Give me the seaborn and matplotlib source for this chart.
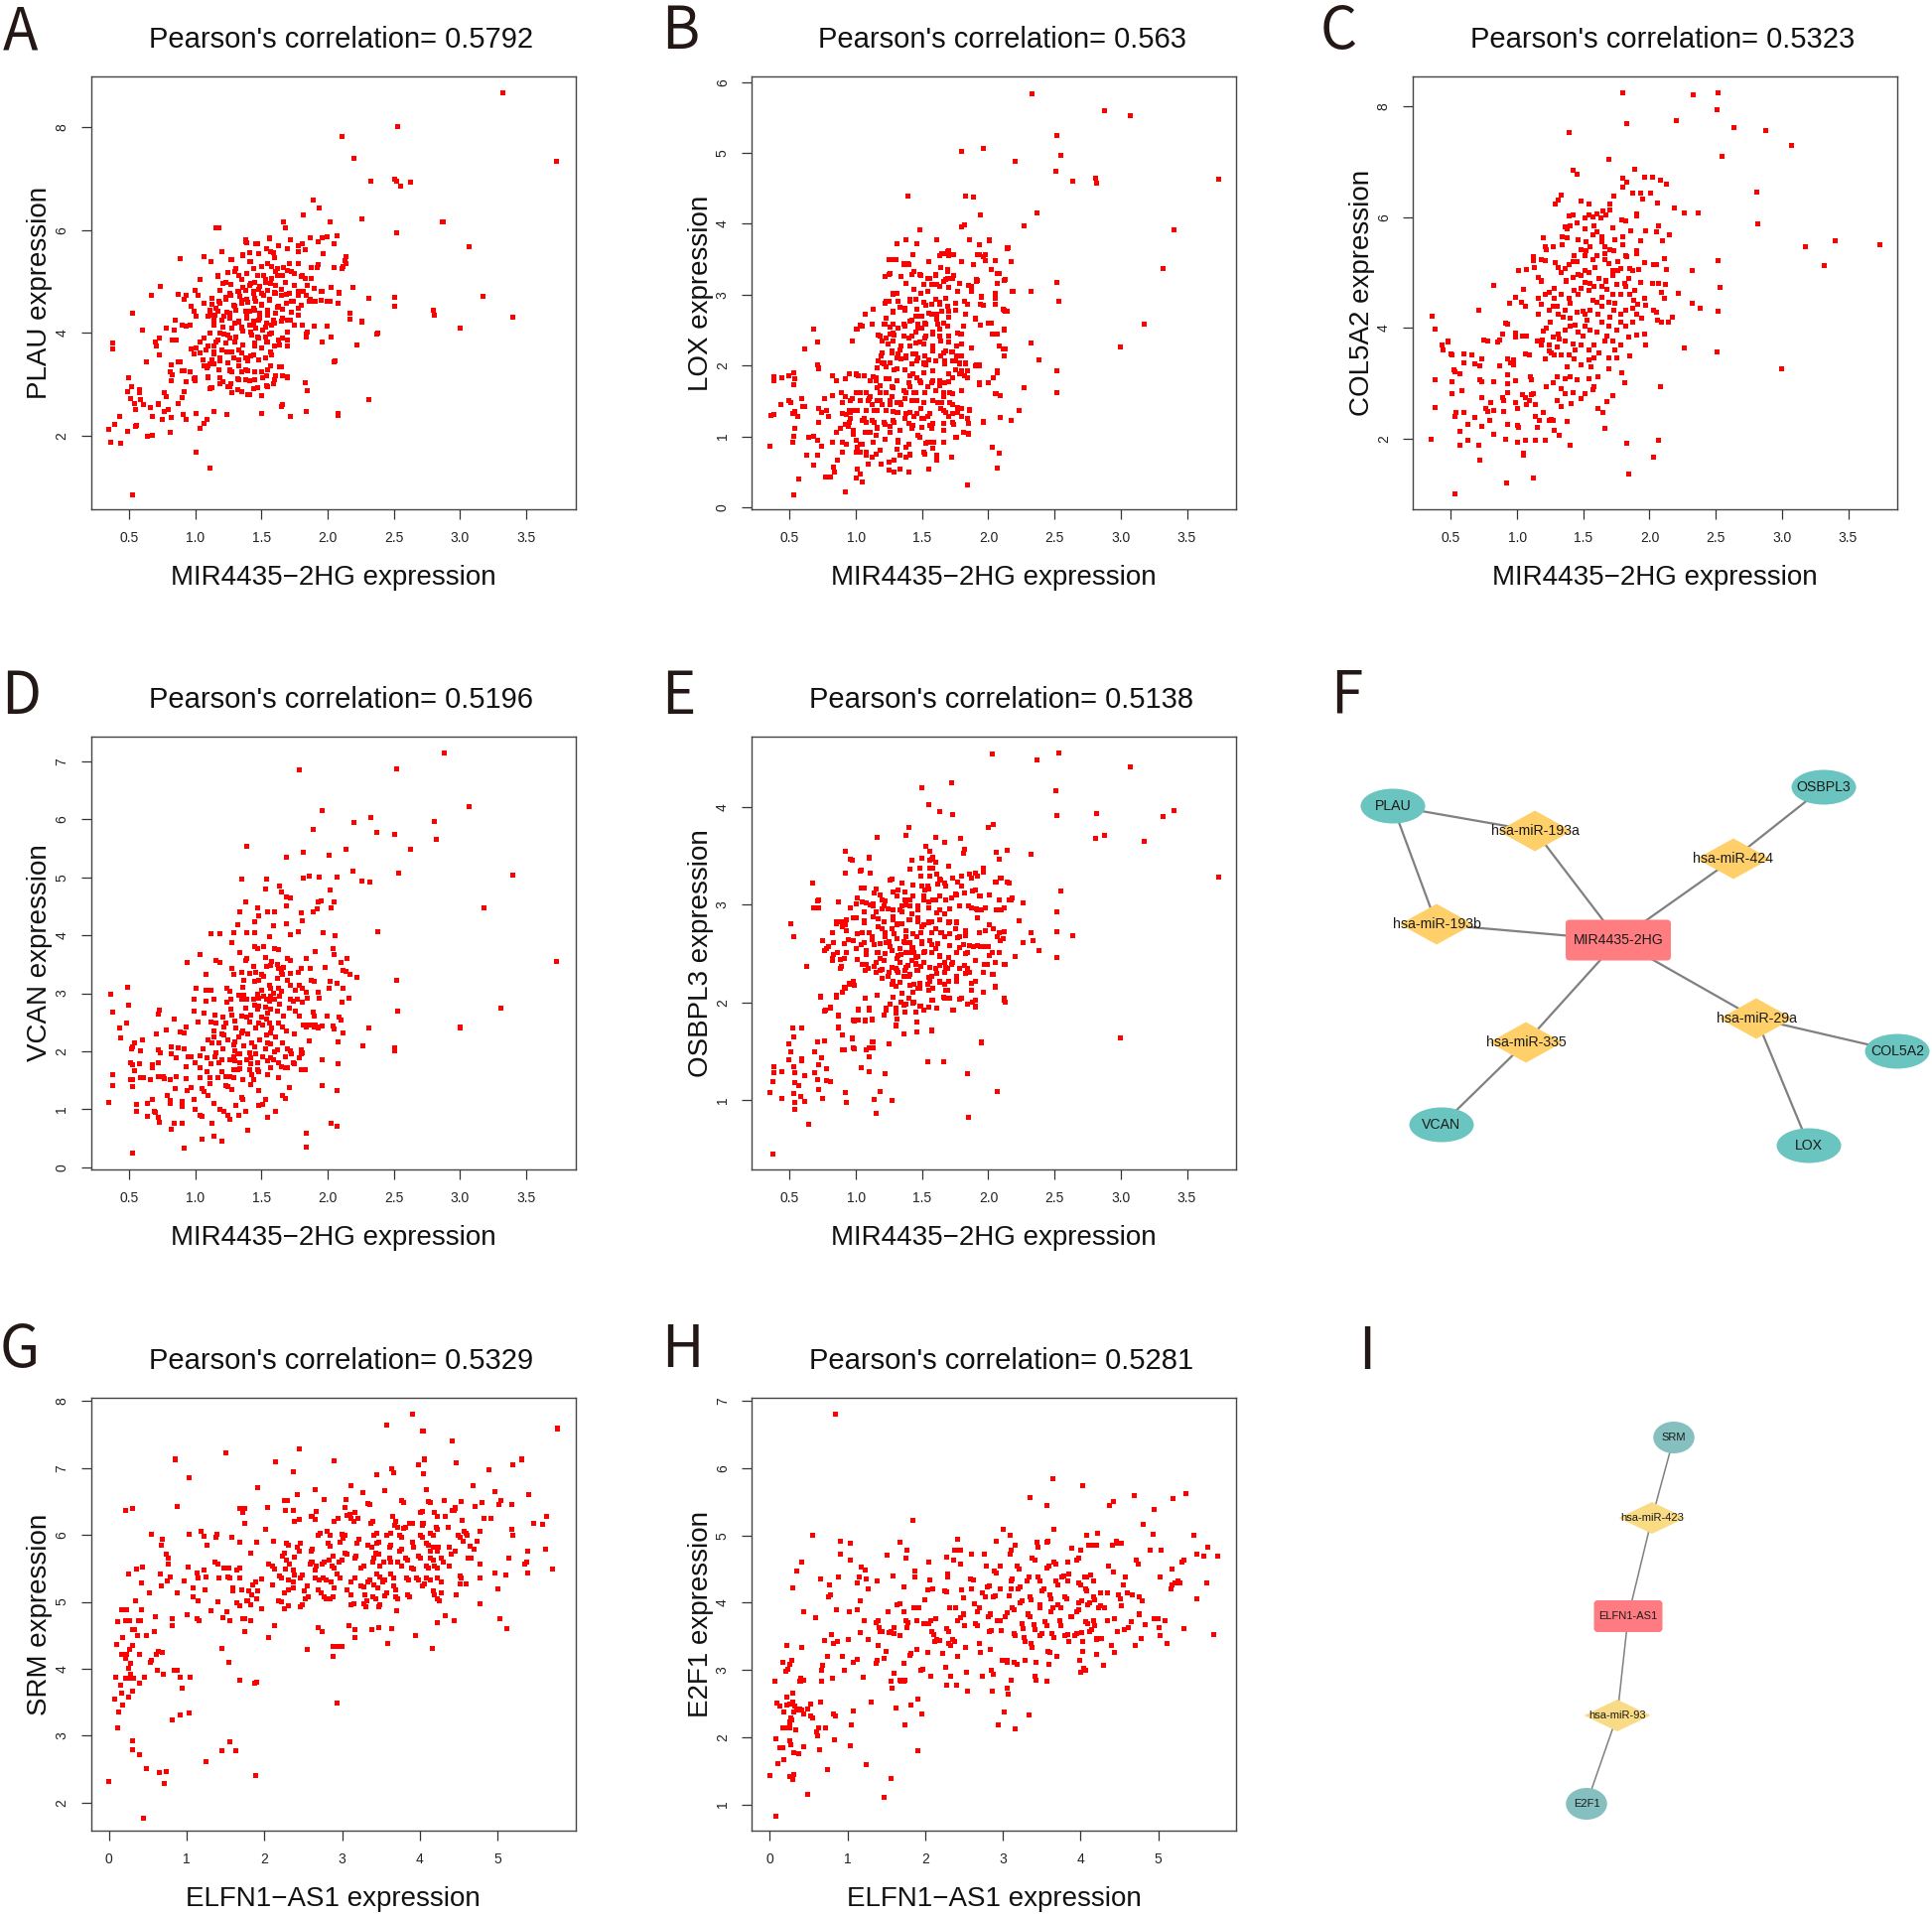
import matplotlib
matplotlib.use("Agg")
import matplotlib.pyplot as plt
import seaborn as sns
from matplotlib.patches import Ellipse, Polygon, FancyBboxPatch

# ---------------- data ----------------
A_pts = [(3.32,8.67),(2.53,8.01),(3.73,7.34),(2.11,7.82),(2.20,7.40),(2.33,6.95),(2.51,6.99),(2.52,6.95),(2.55,6.85),(2.63,6.94),
(2.87,6.17),(2.26,6.22),(2.52,5.95),(3.07,5.68),(3.17,4.72),(3.40,4.31),(3.00,4.09),(2.80,4.44),(2.81,4.34),(2.51,4.69),
(2.51,4.51),(2.31,4.68),(2.26,4.22),(2.22,3.77),(2.37,3.97),(2.38,3.99),(2.31,2.71),(2.08,2.44),(2.08,2.40),(2.05,3.44),
(2.06,3.46),(2.17,4.38),(2.17,4.26),(2.19,4.89),(2.12,5.30),(2.13,5.40),(2.14,5.48),(2.11,5.25),(2.14,5.35),(1.89,6.59),
(1.94,6.44),(2.02,6.17),(1.82,6.30),(1.67,6.17),(1.68,6.04),(1.18,6.04),(1.16,6.04),(0.89,5.44),(0.74,4.91),(0.67,4.74),
(0.53,4.38),(0.38,3.81),(0.38,3.68),(0.60,4.05),(0.63,3.43),(0.35,2.12),(0.36,1.88),(0.44,1.85),(0.53,0.85),(1.01,1.69),
(1.11,1.37),(0.64,1.98),(0.68,2.01),(0.81,2.06),(0.50,3.13),(0.49,2.08),(0.39,2.23),(0.43,2.38),(0.55,2.19),(0.56,2.21),
(1.72,2.38),(1.50,2.44),(1.24,2.42),(1.66,2.61),(1.65,2.56),(1.84,2.47),(1.85,2.88),(1.83,3.03),(1.70,3.15),(1.65,3.35),
(1.50,2.78),(1.40,2.80),(1.41,2.81),(1.35,2.86),(1.01,2.44),(1.04,2.15),(1.09,2.31),(1.07,2.25),(1.14,2.47),(0.91,2.42),
(0.93,2.31),(0.82,2.35),(0.75,2.32),(0.77,2.48),(0.72,2.60),(0.72,2.63),(0.68,2.38),(0.66,2.54),(0.61,2.60),(0.58,2.83),
(0.59,2.71),(0.58,2.89),(0.52,2.96),(0.51,2.73),(0.54,2.63),(0.55,2.52),(0.49,2.85),(0.77,2.83),(0.78,2.77),(0.82,3.07),
(0.81,3.25),(0.83,3.19),(0.82,3.38),(0.87,3.44),(0.89,3.44),(0.90,3.27),(0.92,3.27),(0.93,3.06),(0.92,2.86),(0.99,3.11),
(1.00,3.07),(0.97,3.68),(0.99,3.59),(0.96,3.25),(1.04,3.62),(1.07,3.36),(1.10,3.36),(1.11,3.40),(1.14,3.40),(1.19,3.13),
(1.19,3.02),(1.10,3.12),(1.12,2.94),(1.13,2.94),(1.25,2.96),(1.27,3.02),(1.26,3.28),(1.28,3.25),(1.32,3.11),(1.33,3.09),
(1.38,3.28),(1.40,3.26),(0.70,3.82),(0.73,3.91),(0.71,3.74),(0.73,3.58),(0.78,4.09),(0.84,4.06),(0.83,3.86),(0.86,3.86),
(0.85,4.24),(0.90,4.16),(0.93,4.14),(0.96,4.16),(0.92,4.66),(0.93,4.74),(0.87,4.75),(1.00,4.83),(1.02,4.74),(1.04,5.05),
(1.07,5.49),(1.12,5.39),(0.97,4.51),(0.99,4.43),(1.07,4.58),(1.01,4.32),(1.11,4.35),(1.13,4.55),(1.14,4.24),(1.20,5.58),
(1.17,5.12),(1.23,4.98),(1.27,5.43),(1.30,5.20),(1.33,5.12),(1.36,5.52),(1.38,5.81),(1.39,5.75),(1.42,5.39),(1.47,5.73),
(1.48,5.54),(1.56,5.85),(1.57,5.58),(1.60,5.46),(1.63,5.69),(1.72,5.81),(1.78,5.58),(1.81,5.73),(1.87,5.85),(1.93,5.77),
(1.96,5.85),(2.00,5.88),(2.07,5.90),(2.05,5.73),(1.97,5.54),(1.93,5.33),(1.88,5.27),(1.81,5.12),(1.73,5.20),(1.67,5.27),
(1.62,5.12),(1.57,4.97),(1.53,5.04),(1.47,5.12),(1.42,4.97),(1.36,4.89),(1.32,4.81),(1.27,4.74),(1.23,4.66),(1.19,4.58),
(1.17,4.43),(1.22,4.32),(1.26,4.39),(1.30,4.51),(1.35,4.58),(1.39,4.66),(1.44,4.78),(1.48,4.85),(1.52,4.74),(1.56,4.65),
(1.60,4.78),(1.65,4.85),(1.69,4.75),(1.73,4.62),(1.78,4.74),(1.82,4.81),(1.87,4.66),(1.91,4.62),(1.96,4.81),(2.02,4.62),
(2.08,4.58),(2.09,4.78),(2.03,4.89),(2.05,5.27),(1.30,4.20),(1.35,4.09),(1.39,4.28),(1.44,4.16),(1.48,4.24),(1.42,4.01),
(1.47,3.93),(1.51,4.05),(1.56,3.97),(1.60,4.20),(1.66,4.28),(1.72,4.24),(1.78,4.35),(1.81,4.16),(1.84,3.97),(1.90,4.13),
(1.96,3.82),(2.00,4.13),(2.03,3.93),(1.66,3.90),(1.70,3.74),(1.60,3.74),(1.57,3.63),(1.54,3.82),(1.50,3.70),(1.45,3.74),
(1.42,3.55),(1.38,3.51),(1.33,3.67),(1.30,3.82),(1.26,3.90),(1.22,3.97),(1.17,3.86),(1.14,3.74),(1.10,3.74),(1.07,3.90),
(1.04,3.82),(1.01,3.70),(1.24,3.63),(1.29,3.51),(1.19,3.51),(1.14,3.59),(1.57,3.36),(1.54,3.17),(1.60,3.09),(1.50,3.25),
(1.45,3.09),(1.38,3.09),(1.33,3.36),(1.47,2.94),(1.54,2.98),(1.59,3.02),(1.66,3.17),(1.32,2.90),(1.28,2.83),(0.90,2.75),
(0.87,2.63),(0.80,2.52),(1.45,4.45),(1.50,4.55),(1.41,4.42),(1.55,4.35),(1.62,4.50),(1.34,4.71),(1.46,4.62),(1.58,5.30),
(1.38,5.77),(1.46,5.73),(1.56,5.84),(1.41,5.56),(1.48,5.54),(1.54,5.63),(1.59,5.56),(1.70,5.64),(1.78,5.70),(1.81,5.73),
(1.83,5.62),(1.28,5.43),(1.36,5.51),(1.41,5.39),(1.50,5.30),(1.55,5.35),(1.62,5.26),(1.71,5.35),(1.78,5.35),(1.25,5.17),
(1.31,5.26),(1.39,5.15),(1.44,5.25),(1.47,5.11),(1.52,5.12),(1.61,5.19),(1.66,5.12),(1.70,5.22),(1.75,5.15),(1.80,5.09),
(1.88,5.06),(1.92,5.28),(1.83,5.06),(1.17,5.09),(1.21,4.96),(1.27,4.94),(1.35,5.04),(1.41,4.93),(1.45,4.99),(1.49,4.90),
(1.53,4.99),(1.58,5.06),(1.61,4.92),(1.68,4.99),(1.75,4.93),(1.85,4.92),(1.90,4.86),(1.95,4.80),(1.19,4.83),(1.26,4.77),
(1.33,4.80),(1.38,4.83),(1.44,4.80),(1.50,4.77),(1.55,4.83),(1.61,4.77),(1.65,4.74),(1.71,4.77),(1.78,4.80),(1.84,4.74),
(1.13,4.67),(1.18,4.61),(1.23,4.70),(1.29,4.54),(1.35,4.64),(1.40,4.59),(1.45,4.67),(1.50,4.54),(1.56,4.64),(1.63,4.51),
(1.69,4.57),(1.74,4.61),(1.80,4.54),(1.86,4.61),(1.90,4.62),(1.95,4.64),(2.00,4.61),(1.11,4.45),(1.16,4.48),(1.24,4.41),
(1.31,4.45),(1.38,4.43),(1.44,4.48),(1.49,4.38),(1.55,4.45),(1.61,4.38),(1.66,4.46),(1.73,4.41),(1.78,4.48),(1.10,4.32),
(1.15,4.35),(1.20,4.25),(1.26,4.28),(1.33,4.22),(1.39,4.32),(1.44,4.22),(1.49,4.28),(1.54,4.19),(1.59,4.25),(1.65,4.23),
(1.70,4.25),(1.75,4.15),(1.14,4.15),(1.21,4.12),(1.28,4.09),(1.35,4.12),(1.41,4.15),(1.46,4.09),(1.53,4.12),(1.58,4.15),
(1.11,3.99),(1.19,3.99),(1.25,3.96),(1.31,3.93),(1.36,4.03),(1.43,3.96),(1.48,3.90),(1.53,3.93),(1.58,3.99),(1.63,3.86),
(1.70,4.01),(1.85,4.01),(1.16,3.83),(1.23,3.80),(1.30,3.83),(1.36,3.77),(1.45,3.80),(1.55,3.83),(1.64,3.77),(1.70,3.86),
(1.84,3.93),(1.08,3.67),(1.14,3.64),(1.20,3.67),(1.28,3.64),(1.35,3.61),(1.44,3.57),(1.53,3.51),(1.58,3.57),(1.06,3.48),
(1.13,3.48),(1.19,3.46),(1.25,3.41),(1.33,3.48),(1.40,3.46),(1.48,3.48),(1.09,3.32),(1.18,3.28),(1.26,3.26),(1.35,3.25),
(1.45,3.25),(1.55,3.28),(1.64,3.35),(1.00,3.12),(1.10,3.14),(1.21,3.06),(1.33,3.09),(1.41,3.07),(1.51,3.12),(1.61,3.16),
(1.70,3.12),(1.11,2.92),(1.26,2.96),(1.35,2.86),(1.44,2.92),(1.55,2.96)]

B_pts = [(2.33,5.84),(2.88,5.60),(3.07,5.52),(2.52,5.25),(1.96,5.07),(1.80,5.02),(2.20,4.88),(2.55,4.96),(2.51,4.74),(2.64,4.60),
(2.81,4.65),(2.82,4.57),(3.74,4.63),(1.39,4.39),(1.83,4.39),(1.89,4.38),(1.94,4.12),(2.37,4.15),(2.27,3.97),(1.80,3.95),
(1.82,3.98),(1.48,3.92),(3.40,3.92),(3.32,3.37),(2.52,3.17),(2.53,2.90),(2.32,3.04),(3.18,2.59),(3.00,2.26),(2.32,2.32),
(2.38,2.08),(2.52,1.92),(2.52,1.61),(2.27,1.68),(2.23,1.37),(2.17,1.23),(2.09,1.26),(2.08,0.76),(2.07,0.55),(2.03,0.85),
(1.84,0.31),(2.09,1.57),(2.05,1.60),(2.07,1.92),(2.04,1.82),(2.12,2.14),(2.11,2.24),(2.08,2.28),(2.12,2.50),(2.07,2.44),
(2.12,2.78),(2.14,2.77),(2.19,3.04),(2.12,3.20),(2.17,3.47),(2.14,3.65),(2.15,3.66),(2.05,3.48),(2.02,3.35),(2.07,3.30),
(2.05,3.02),(2.07,3.16),(1.96,3.53),(1.98,3.48),(2.01,3.76),(1.93,3.56),(1.92,3.20),(1.91,3.19),(1.87,3.12),(1.95,2.96),
(1.94,2.86),(1.94,2.57),(2.00,2.60),(1.90,2.66),(1.93,2.00),(1.90,1.99),(1.84,1.93),(1.84,1.83),(1.80,1.92),(1.93,1.73),
(2.00,1.75),(1.96,1.21),(1.86,1.38),(1.84,1.25),(1.81,1.06),(1.85,1.04),(1.75,0.99),(1.72,0.70),(1.61,0.66),(1.55,0.54),
(1.51,0.77),(1.58,0.83),(1.59,0.92),(1.54,0.92),(1.47,1.01),(1.40,0.49),(1.41,0.74),(1.38,0.71),(1.38,0.84),(1.32,0.91),
(1.33,0.73),(1.33,0.54),(1.29,0.50),(1.25,0.53),(1.25,0.64),(1.29,0.67),(0.92,0.22),(1.05,0.35),(1.00,0.41),(1.03,0.47),
(1.01,0.54),(1.19,0.61),(1.09,0.61),(1.12,0.70),(1.15,0.75),(1.08,0.73),(1.03,0.78),(1.01,0.84),(1.00,0.94),(1.05,0.89),
(0.98,1.03),(0.90,0.92),(0.90,0.78),(0.86,0.67),(0.83,0.56),(0.84,0.50),(0.81,0.43),(0.77,0.43),(0.68,0.59),(0.63,0.73),
(0.71,0.73),(0.57,0.40),(0.53,0.18),(0.35,0.86),(0.52,0.92),(0.53,1.00),(0.54,1.11),(0.68,1.00),(0.64,0.98),(0.71,0.95),
(0.74,0.86),(0.82,0.92),(0.85,1.06),(0.88,1.11),(0.92,1.17),(0.94,1.14),(0.95,1.20),(0.36,1.29),(0.38,1.31),(0.43,1.45),
(0.49,1.50),(0.51,1.47),(0.52,1.32),(0.54,1.35),(0.56,1.28),(0.59,1.53),(0.60,1.42),(0.61,1.42),(0.38,1.84),(0.38,1.78),
(0.44,1.82),(0.49,1.86),(0.53,1.90),(0.54,1.81),(0.53,1.73),(0.61,2.24),(0.68,2.52),(0.71,2.33),(0.72,1.96),(0.71,2.01),
(0.72,1.39),(0.74,1.34),(0.76,1.53),(0.78,1.37),(0.79,1.28),(0.72,1.20),(0.82,1.86),(0.85,1.78),(0.82,1.58),(0.89,1.62),
(0.92,1.81),(0.92,1.56),(0.90,1.47),(0.90,1.32),(0.93,1.31),(0.96,1.34),(0.98,1.36),(0.97,1.53),(0.97,2.34),(1.00,1.87),
(1.02,1.86),(1.00,2.51),(1.05,2.56),(1.07,2.73),(1.13,2.79),(1.06,1.85),(1.00,1.61),(1.03,1.61),(1.08,1.61),(1.11,1.56),
(1.09,1.50),(1.12,1.45),(1.14,1.36),(1.13,1.84),(1.15,1.79),(1.18,1.72),(1.18,1.61),(1.16,1.50),(1.20,1.45),(1.06,1.25),
(1.08,1.20),(1.14,1.20),(1.16,1.12),(1.11,1.06),(1.15,1.01),(1.18,2.42),(1.17,2.07),(1.19,2.14),(1.21,2.03),(1.23,2.39),
(1.24,2.30),(1.22,2.58),(1.26,2.54),(1.22,2.88),(1.25,2.90),(1.22,3.25),(1.25,3.29),(1.25,3.50),(1.29,3.50),(1.31,3.72),
(1.38,3.77),(1.36,3.43),(1.40,3.43),(1.34,3.26),(1.28,3.01),(1.31,3.02),(1.33,2.82),(1.28,2.75),(1.28,2.46),(1.29,2.43),
(1.27,2.21),(1.33,2.22),(1.31,2.11),(1.29,1.94),(1.25,1.81),(1.27,1.70),(1.23,1.61),(1.27,1.56),(1.26,1.45),(1.31,1.47),
(1.28,1.35),(1.32,1.34),(1.22,1.17),(1.26,1.14),(1.29,1.20),(1.34,1.45),(1.37,1.53),(1.38,1.61),(1.41,1.70),(1.44,1.61),
(1.46,1.50),(1.41,1.34),(1.44,1.28),(1.40,1.18),(1.49,1.39),(1.50,1.25),(1.54,1.28),(1.56,1.16),(1.62,1.47),(1.64,1.39),
(1.68,1.34),(1.70,1.28),(1.66,1.56),(1.71,1.61),(1.73,1.45),(1.77,1.34),(1.80,1.28),(1.74,1.17),(1.73,1.83),(1.75,1.94),
(1.67,1.75),(1.63,1.78),(1.58,1.78),(1.54,1.70),(1.49,1.75),(1.46,1.83),(1.41,1.86),(1.37,1.94),(1.38,2.11),(1.43,2.17),
(1.47,2.11),(1.51,2.03),(1.55,2.08),(1.60,2.06),(1.64,2.14),(1.67,2.03),(1.73,2.19),(1.76,2.14),(1.70,2.33),(1.76,2.28),
(1.79,2.44),(1.63,2.42),(1.58,2.47),(1.52,2.39),(1.48,2.33),(1.45,2.47),(1.40,2.39),(1.37,2.55),(1.42,2.64),(1.48,2.69),
(1.52,2.60),(1.57,2.72),(1.61,2.65),(1.66,2.60),(1.70,2.68),(1.75,2.78),(1.69,2.83),(1.63,2.89),(1.57,2.86),(1.51,2.89),
(1.46,2.80),(1.41,2.91),(1.37,2.78),(1.44,3.08),(1.49,3.02),(1.54,3.05),(1.58,3.14),(1.63,3.11),(1.68,3.22),(1.74,3.27),
(1.78,3.16),(1.69,3.32),(1.64,3.38),(1.60,3.27),(1.54,3.23),(1.49,3.27),(1.44,3.33),(1.55,3.47),(1.63,3.55),(1.69,3.61),
(1.74,3.56),(1.66,3.58),(1.61,3.77),
(1.31,3.72),(1.38,3.77),(1.46,3.72),(1.61,3.78),(1.86,3.77),(1.93,3.71),(2.01,3.77),(2.14,3.66),(1.43,3.57),(1.65,3.58),
(1.70,3.62),(1.74,3.57),(1.92,3.57),(1.98,3.56),(1.25,3.49),(1.30,3.49),(1.36,3.44),(1.39,3.44),(1.55,3.47),(1.70,3.55),
(1.80,3.47),(1.89,3.42),(2.05,3.48),(2.17,3.47),(1.26,3.30),(1.22,3.26),(1.34,3.26),(1.42,3.29),(1.48,3.28),(1.56,3.23),
(1.60,3.29),(1.69,3.35),(1.69,3.23),(1.73,3.23),(1.78,3.16),(1.85,3.13),(1.87,3.05),(1.91,3.21),(2.02,3.36),(2.08,3.30),
(2.13,3.21),(2.07,3.16),(1.38,3.16),(1.44,3.07),(1.51,3.15),(1.57,3.15),(1.61,3.14),(1.66,3.19),(1.70,3.10),(1.77,3.04),
(1.28,3.02),(1.95,2.98),(2.05,2.95),(2.18,3.04),(1.23,2.90),(1.25,2.90),(1.32,2.90),(1.41,2.94),(1.45,2.94),(1.53,2.85),
(1.60,2.93),(1.63,2.87),(1.68,2.95),(1.75,2.88),(1.82,2.91),(1.84,2.86),(1.90,2.67),(1.96,2.85),(2.05,2.86),(2.11,2.79),
(2.13,2.77),(1.13,2.79),(1.28,2.76),(1.37,2.81),(1.45,2.69),(1.50,2.69),(1.55,2.74),(1.61,2.73),(1.65,2.76),(1.70,2.76),
(1.83,2.72),(1.07,2.73),(1.23,2.67),(1.36,2.59),(1.41,2.62),(1.47,2.58),(1.53,2.58),(1.62,2.58),(1.69,2.55),(1.81,2.55),
(1.94,2.57),(2.02,2.60),(1.03,2.57),(1.12,2.58),(1.21,2.58),(1.28,2.58),(1.01,2.51),(1.17,2.43),(1.26,2.44),(1.32,2.53),
(1.36,2.41),(1.42,2.41),(1.47,2.53),(1.50,2.53),(1.53,2.41),(1.58,2.45),(1.63,2.51),(1.70,2.41),(1.77,2.46),(1.80,2.44),
(2.03,2.45),(2.12,2.51),(0.97,2.34),(1.20,2.35),(1.28,2.34),(1.34,2.27),(1.41,2.27),(1.45,2.32),(1.51,2.30),(1.58,2.27),
(1.64,2.34),(1.68,2.20),(1.80,2.31),(1.87,2.25),(2.08,2.27),(2.13,2.23),(1.20,2.18),(1.27,2.18),(1.32,2.16),(1.38,2.13),
(1.45,2.16),(1.52,2.13),(1.58,2.20),(1.66,2.18),(1.72,2.19),(1.75,2.07),(1.80,2.13),(1.20,2.04),(1.26,2.04),(1.34,2.09),
(1.42,2.02),(1.46,2.06),(1.53,2.01),(1.60,2.06),(1.67,2.06),(1.73,2.06),(1.78,2.03),(1.83,2.03),(1.91,2.01),(1.93,2.01),
(1.16,1.97),(1.23,1.98),(1.31,1.95),(1.43,1.88),(1.51,1.89),(1.58,1.92),(1.70,1.88),(1.78,1.88),(1.82,1.85),(1.93,1.75),
(2.00,1.75),(2.07,1.90),(1.15,1.83),(1.23,1.81),(1.31,1.78),(1.40,1.76),(1.48,1.78),(1.57,1.76),(1.63,1.71),(1.70,1.77),
(0.95,1.88),(1.00,1.88),(1.06,1.85),(1.11,1.78),(1.16,1.69),(1.28,1.68),(1.36,1.64),(1.45,1.62),(1.52,1.62),(1.60,1.64),
(1.66,1.61),(1.73,1.60),(1.80,1.64),(2.06,1.60),(0.96,1.50),(1.03,1.50),(1.10,1.53),(1.18,1.50),(1.26,1.50),(1.33,1.48),
(1.42,1.50),(1.51,1.48),(1.58,1.50),(1.65,1.48),(1.71,1.48),(1.77,1.41),(1.86,1.37),(0.95,1.37),(1.01,1.37),(1.08,1.36),
(1.16,1.36),(1.23,1.36),(1.31,1.34),(1.38,1.32),(1.46,1.32),(1.56,1.32),(1.66,1.37),(1.73,1.32),(1.80,1.39),(0.96,1.25),
(1.05,1.22),(1.12,1.22),(1.21,1.20),(1.28,1.23),(1.37,1.25),(1.43,1.15),(1.51,1.25),(1.58,1.18),(1.66,1.18),(1.73,1.20),
(1.85,1.18),(1.96,1.20),(0.98,1.08),(1.07,1.06),(1.16,1.11),(1.26,1.06),(1.33,1.08),(1.42,1.11),(1.50,1.13),(1.57,1.11),
(1.66,1.08),(1.76,0.99),(1.85,1.03),(0.93,0.89),(1.03,0.89),(1.13,0.92),(1.22,0.96),(1.32,0.94),(1.40,0.89),(1.48,0.99),
(1.53,0.90),(1.58,0.92),(1.66,0.92),(1.00,0.78),(1.08,0.78),(1.18,0.80),(1.31,0.82),(1.41,0.75),(1.52,0.75),(1.61,0.73)]

C_pts = [(1.80,8.24),(2.33,8.20),(2.52,8.25),(2.51,7.94),(2.20,7.75),(1.83,7.69),(1.39,7.53),(2.64,7.62),(2.88,7.56),(3.07,7.29),
(2.55,7.09),(1.69,7.04),(1.42,6.84),(1.45,6.78),(1.89,6.86),(2.81,6.45),(2.82,5.88),(3.18,5.46),(3.40,5.58),(3.74,5.51),
(3.32,5.12),(2.52,5.22),(2.53,4.74),(2.52,4.31),(2.51,3.57),(3.00,3.27),(2.32,5.03),(2.26,6.08),(2.37,6.08),(2.19,6.16),
(2.32,4.44),(2.38,4.35),(2.26,3.64),(2.22,4.62),(2.17,4.19),(2.08,2.94),(2.07,1.98),(2.03,1.67),(1.83,1.93),(1.84,1.36),
(1.81,3.01),(1.79,3.19),(1.66,2.19),(1.65,2.48),(1.68,2.67),(1.72,2.78),(1.61,2.55),(1.57,2.89),(1.58,2.94),(1.51,2.81),
(1.48,2.73),(1.40,1.89),(1.38,2.32),(1.32,2.06),(1.28,2.15),(1.26,2.35),(1.27,2.33),(1.21,1.97),(1.14,1.97),(1.15,2.21),
(1.12,1.29),(1.05,1.75),(1.05,1.70),(1.06,1.98),(1.00,1.94),(0.92,1.21),(1.01,2.21),(1.00,2.25),(0.93,2.27),(0.91,1.99),
(0.82,2.09),(0.71,1.89),(0.72,1.62),(0.63,1.98),(0.57,1.89),(0.57,2.13),(0.53,1.01),(0.35,1.99),(0.38,2.57),(0.38,3.06),
(0.38,3.99),(0.36,4.22),(0.43,3.70),(0.44,3.61),(0.48,3.77),(0.48,3.74),(0.50,3.54),(0.51,3.52),(0.52,3.24),(0.53,3.21),
(0.51,3.03),(0.51,2.81),(0.54,2.48),(0.53,2.41),(0.57,3.17),(0.58,2.87),(0.60,3.53),(0.60,3.38),(0.60,2.48),(0.63,2.27),
(0.68,2.38),(0.66,3.51),(0.68,3.35),(0.72,3.32),(0.73,3.44),(0.71,4.32),(0.72,3.06),(0.73,3.03),(0.73,2.74),(0.76,2.55),
(0.78,2.50),(0.80,2.66),(0.82,2.52),(0.73,2.22),(0.79,2.34),(0.75,3.79),(0.78,3.77),(0.82,4.77),(0.82,3.03),(0.85,3.74),
(0.87,3.79),(0.87,3.32),(0.89,2.74),(0.90,2.69),(0.90,2.50),(0.93,2.84),(0.93,3.00),(0.89,3.90),(0.91,4.09),(0.93,4.07),
(0.93,3.15),(0.93,3.44),(0.95,3.37),(0.97,3.43),(0.97,3.33),(0.99,3.05),(0.99,2.66),(1.00,2.55),(0.94,4.45),(0.99,3.91),
(0.99,3.83),(0.99,4.55),(1.01,5.03),(1.07,5.05),(1.05,4.69),(1.03,4.46),(1.06,4.39),(1.04,3.86),(1.07,3.86),(1.06,3.54),
(1.09,3.51),(1.10,3.12),(1.11,3.06),(1.04,2.80),(1.06,2.74),(1.07,2.62),(1.09,2.69),(1.11,2.80),(1.12,5.28),(1.12,5.21),
(1.13,5.10),(1.16,4.92),(1.18,4.85),(1.20,5.63),(1.21,5.47),(1.22,5.42),(1.18,5.24),(1.21,5.21),(1.27,5.46),(1.29,5.19),
(1.31,5.09),(1.29,6.23),(1.31,6.31),(1.33,6.40),(1.36,5.82),(1.38,5.79),(1.39,6.02),(1.42,6.04),(1.34,5.64),(1.38,5.63),
(1.45,5.90),(1.48,6.29),(1.54,6.23),(1.51,5.99),(1.54,6.04),(1.57,6.01),(1.60,6.06),(1.63,5.99),(1.65,6.11),(1.67,6.04),
(1.70,6.13),(1.70,6.23),(1.73,6.38),(1.80,6.55),(1.83,6.64),(1.80,6.71),(1.87,6.43),(1.93,6.43),(1.96,6.73),(2.02,6.72),
(2.08,6.66),(2.13,6.60),(2.01,6.43),(2.06,6.26),(1.95,6.32),(1.90,6.06),(1.90,6.02),(1.79,5.95),(1.82,5.94),(1.97,5.75),
(2.05,5.73),(2.07,5.85),(2.10,5.58),(2.15,5.69),(1.93,5.57),(1.80,5.65),(1.74,5.60),(1.70,5.42),(1.73,5.39),(1.64,5.56),
(1.66,5.46),(1.57,5.68),(1.60,5.74),(1.51,5.79),(1.52,5.56),(1.55,5.46),(1.48,5.42),(1.51,5.31),(1.43,5.31),(1.45,5.20),
(1.39,5.14),(1.36,5.07),(1.42,4.92),(1.46,4.96),(1.51,5.03),(1.54,5.00),(1.57,5.24),(1.60,5.31),(1.66,5.24),(1.69,5.16),
(1.72,5.03),(1.76,5.03),(1.78,5.07),(1.85,5.07),(1.87,5.03),(1.82,5.31),(1.83,5.28),(1.90,5.35),(1.90,5.39),(1.96,5.19),
(2.03,5.15),(2.05,5.14),(2.11,5.26),(2.13,5.05),(2.07,4.80),(2.12,4.78),(2.09,4.64),(2.11,4.54),(2.02,4.80),(1.93,4.83),
(1.89,4.68),(1.85,4.61),(1.81,4.80),(1.82,4.76),(1.72,4.61),(1.75,4.78),(1.67,4.85),(1.64,4.75),(1.58,4.75),(1.54,4.68),
(1.51,4.82),(1.48,4.71),(1.43,4.68),(1.39,4.54),(1.33,4.61),(1.28,4.54),(1.24,4.64),(1.21,4.61),(1.16,4.54),(1.18,4.43),
(1.24,4.32),(1.27,4.39),(1.31,4.25),(1.36,4.32),(1.40,4.18),(1.45,4.29),(1.51,4.25),(1.55,4.32),(1.60,4.46),(1.64,4.39),
(1.69,4.46),(1.73,4.32),(1.78,4.25),(1.82,4.32),(1.87,4.36),(1.91,4.43),(1.96,4.54),(1.97,4.41),(2.03,4.32),(2.05,4.29),
(2.06,4.15),(2.09,4.11),(2.14,4.11),(1.94,4.18),(1.87,4.11),(1.82,4.04),(1.78,4.11),(1.75,3.97),(1.69,4.04),(1.64,4.11),
(1.60,3.93),(1.55,3.97),(1.51,4.04),(1.46,3.93),(1.40,4.04),(1.36,3.97),(1.31,3.90),(1.27,3.83),(1.22,4.00),(1.19,3.79),
(1.15,3.76),(1.18,3.69),(1.24,3.69),(1.30,3.65),(1.36,3.76),(1.42,3.72),(1.48,3.69),(1.54,3.61),(1.58,3.69),(1.66,3.76),
(1.72,3.76),(1.78,3.69),(1.84,3.83),(1.90,3.88),(1.96,3.90),(1.97,3.69),(1.85,3.49),(1.75,3.47),(1.69,3.46),(1.58,3.46),
(1.54,3.42),(1.48,3.33),(1.43,3.44),(1.39,3.51),(1.33,3.51),(1.28,3.51),(1.24,3.58),(1.21,3.44),(1.30,3.12),(1.36,3.08),
(1.40,3.12),(1.45,3.06),(1.54,3.08),(1.61,3.12),(1.69,3.26),(1.22,2.94),(1.27,3.01),(1.33,2.91),(1.36,2.82),(1.42,2.84),
(1.30,2.69),(1.33,2.59),(1.41,2.64),(1.14,2.41),(1.17,2.34),(1.24,2.34),(1.20,2.48),(1.12,2.81),(1.14,2.62),
(1.25,4.10),(1.28,4.72),(1.30,4.40),(1.33,5.00),(1.35,4.20),(1.37,4.85),(1.40,4.45),(1.42,5.20),(1.44,4.05),(1.46,4.60),
(1.48,4.95),(1.50,4.30),(1.52,5.40),(1.53,4.15),(1.55,4.80),(1.57,4.50),(1.59,5.10),(1.61,4.25),(1.62,4.90),(1.64,4.55),
(1.66,5.35),(1.68,4.70),(1.70,4.20),(1.72,4.95),(1.74,4.45),(1.76,5.20),(1.78,4.60),(1.80,5.50),(1.84,4.90),(1.88,4.50),
(1.92,5.05),(1.20,3.95),(1.26,3.55),(1.32,3.80),(1.38,3.30),(1.44,3.60),(1.50,3.85),(1.56,3.30),(1.62,3.55),(1.68,3.85),
(1.74,3.60),(1.34,5.50),(1.40,5.85),(1.46,5.60),(1.58,5.85),(1.64,5.65),(1.72,5.80),(1.86,5.75),(1.90,4.25),(1.16,4.25)]

D_pts = [(2.88,7.15),(1.79,6.86),(2.52,6.88),(3.07,6.22),(1.96,6.16),(2.33,6.03),(2.81,5.97),(2.20,5.95),(1.89,5.82),(2.37,5.78),
(2.51,5.74),(2.82,5.66),(1.39,5.53),(2.63,5.49),(2.14,5.49),(1.82,5.43),(2.01,5.39),(1.69,5.34),(2.19,5.11),(2.54,5.07),
(3.40,5.04),(1.86,5.02),(1.94,5.01),(2.07,5.01),(2.26,4.94),(2.32,4.92),(1.35,4.97),(1.54,4.97),(1.82,4.99),(2.02,4.78),
(1.53,4.80),(1.64,4.85),(1.65,4.75),(3.18,4.48),(1.38,4.57),(1.47,4.48),(1.48,4.34),(1.45,4.24),(1.34,4.40),(1.55,4.40),
(1.60,4.41),(1.69,4.66),(1.72,4.65),(1.69,4.51),(1.80,4.39),(1.81,4.26),(1.89,4.40),(1.92,4.45),(1.95,4.59),(1.93,4.58),
(2.05,4.57),(2.03,4.48),(1.32,4.19),(1.69,4.20),(1.59,4.16),(1.29,4.05),(1.39,4.05),(1.45,4.04),(1.56,3.97),(1.72,4.01),
(1.78,4.07),(1.97,4.04),(2.06,3.99),(2.38,4.07),(1.12,4.03),(1.19,4.03),(2.04,3.77),(2.05,3.67),(1.91,3.72),(2.15,3.60),
(2.10,3.53),(1.98,3.45),(2.12,3.40),(2.14,3.38),(2.17,3.33),(2.22,3.28),(2.52,3.23),(3.73,3.55),(3.31,2.74),(3.00,2.41),
(2.31,2.40),(2.53,2.69),(2.51,2.06),(2.51,2.00),(2.27,2.09),(2.08,2.16),(2.12,2.32),(2.09,2.59),(2.10,2.54),(2.16,2.91),
(2.12,3.08),(2.11,2.84),(2.07,3.18),(2.02,3.20),(2.01,3.09),(1.93,3.01),(1.94,2.91),(1.89,2.68),(1.90,2.61),(1.93,2.41),
(1.96,2.43),(2.04,2.43),(2.05,2.39),(2.00,2.61),(1.96,1.86),(1.96,1.41),(2.08,1.79),(2.07,1.32),(2.03,0.76),(2.07,0.70),
(1.84,0.59),(1.84,0.34),(1.40,0.63),(1.20,0.45),(1.14,0.53),(1.05,0.49),(0.92,0.32),(0.53,0.24),(0.35,1.12),(0.38,1.41),
(0.38,1.59),(0.36,2.99),(0.38,2.68),(0.49,3.11),(0.50,2.80),(0.48,2.49),(0.43,2.40),(0.44,2.23),(0.54,2.15),(0.52,2.05),
(0.53,2.08),(0.51,1.81),(0.53,1.77),(0.54,1.66),(0.51,1.51),(0.53,1.51),(0.53,1.39),(0.56,1.08),(0.56,0.96),(0.59,2.01),
(0.58,1.79),(0.59,1.55),(0.61,1.55),(0.60,2.20),(0.64,1.10),(0.64,0.88),(0.68,1.16),(0.66,1.51),(0.68,1.71),(0.68,1.77),
(0.69,0.97),(0.70,0.95),(0.71,2.30),(0.72,2.64),(0.73,2.71),(0.72,2.03),(0.74,1.98),(0.72,1.81),(0.72,1.57),(0.72,0.86),
(0.73,0.78),(0.76,1.57),(0.77,1.52),(0.78,2.36),(0.79,1.24),(0.81,1.10),(0.81,1.15),(0.81,1.51),(0.82,2.07),(0.82,1.96),
(0.84,2.55),(0.85,1.36),(0.82,0.65),(0.84,0.75),(0.87,2.06),(0.86,1.89),(0.86,1.57),(0.89,2.33),(0.90,1.14),(0.90,1.05),
(0.90,0.76),(0.92,2.32),(0.92,2.05),(0.93,1.73),(0.94,3.53),(0.93,2.42),(0.95,1.91),(0.93,1.53),(0.94,1.32),(0.97,1.91),
(0.97,1.37),(0.99,2.89),(0.99,2.69),(0.99,1.16),(1.00,1.00),(1.00,1.81),(1.01,3.08),(1.02,2.51),(1.04,3.67),(1.04,1.93),
(1.04,1.71),(1.04,0.90),(1.05,0.88),(1.04,1.55),(1.06,2.05),(1.05,1.35),(1.07,1.30),(1.08,3.06),(1.08,3.33),(1.07,2.66),
(1.08,2.86),(1.09,1.88),(1.10,1.24),(1.09,1.64),(1.11,1.54),(1.11,1.44),(1.12,1.78),(1.13,2.15),(1.14,2.25),(1.13,0.76),
(1.12,3.06),(1.14,2.89),(1.14,2.35),(1.16,2.49),(1.15,2.62),(1.14,1.10),(1.16,3.57),(1.19,3.53),(1.16,1.98),(1.18,1.81),
(1.20,1.86),(1.17,1.54),(1.19,1.00),(1.21,2.59),(1.23,2.49),(1.20,2.30),(1.22,2.28),(1.21,2.05),(1.22,0.97),(1.23,1.57),
(1.26,1.57),(1.23,1.41),(1.25,1.39),(1.24,3.09),(1.26,3.03),(1.27,2.89),(1.25,0.90),(1.26,0.83),(1.28,3.43),(1.29,3.33),
(1.28,3.87),(1.28,2.62),(1.30,2.52),(1.29,2.11),(1.30,2.16),(1.29,1.91),(1.30,1.84),(1.29,1.69),(1.29,1.54),(1.28,1.34),
(1.31,1.07),(1.33,0.90),(1.32,1.69),(1.33,2.96),(1.35,2.89),(1.32,1.96),(1.34,1.96),(1.34,1.81),(1.34,3.70),(1.35,3.36),
(1.37,3.22),(1.36,2.35),(1.35,2.32),(1.36,1.51),(1.35,1.20),(1.36,1.17),(1.38,0.97),(1.38,3.57),(1.39,3.60),(1.37,2.96),
(1.39,2.89),(1.39,2.59),(1.41,2.50),(1.41,1.98),(1.42,1.89),(1.42,1.78),(1.41,1.68),(1.42,1.43),(1.44,1.51),(1.45,2.08),
(1.46,1.95),(1.45,3.80),(1.47,3.77),(1.44,3.47),(1.46,3.36),(1.48,3.23),(1.50,3.33),(1.47,2.99),(1.48,2.91),(1.45,2.79),
(1.47,2.72),(1.48,2.49),(1.50,2.59),(1.48,1.64),(1.47,1.68),(1.48,1.32),(1.48,1.07),(1.51,1.08),(1.53,1.17),(1.52,3.80),
(1.53,3.62),(1.54,3.47),(1.57,3.48),(1.56,3.13),(1.57,3.09),(1.54,2.89),(1.56,2.86),(1.53,2.76),(1.57,2.72),(1.54,2.55),
(1.56,2.49),(1.54,2.28),(1.57,2.32),(1.55,2.15),(1.57,2.13),(1.55,1.84),(1.57,1.88),(1.57,1.71),(1.55,0.86),(1.60,1.99),
(1.62,2.03),(1.61,0.97),(1.60,3.78),(1.63,3.76),(1.62,3.50),(1.63,3.43),(1.65,3.36),(1.66,3.33),(1.63,3.09),(1.65,3.03),
(1.60,2.89),(1.64,2.82),(1.63,2.49),(1.66,2.42),(1.63,1.81),(1.65,1.73),(1.68,1.71),(1.70,1.71),(1.66,1.24),(1.68,1.18),
(1.71,1.37),(1.70,3.60),(1.72,3.57),(1.70,3.23),(1.72,3.13),(1.72,2.89),(1.74,2.86),(1.72,2.01),(1.73,1.95),(1.77,2.89),
(1.76,2.69),(1.74,1.81),(1.75,1.78),(1.78,3.36),(1.80,3.43),(1.79,3.13),(1.81,3.09),(1.79,1.88),(1.80,1.95),(1.80,1.68),
(1.83,1.69),(1.82,2.45),(1.84,2.42),(1.85,2.45),(1.84,3.01),(1.85,2.91),(1.87,2.45),(1.90,2.42),(1.91,2.45),(1.84,3.60),
(1.87,3.43),(1.88,3.23),(1.90,3.20),(1.86,2.18),(1.80,2.03),(1.81,1.98),
(1.22,2.42),(1.25,2.20),(1.27,2.72),(1.31,2.40),(1.33,2.25),(1.35,2.60),(1.37,2.10),(1.38,2.75),(1.40,2.30),(1.42,2.62),
(1.43,2.15),(1.44,2.90),(1.46,2.40),(1.48,2.78),(1.49,2.20),(1.50,3.05),(1.51,2.45),(1.52,2.95),(1.53,2.05),(1.55,2.65),
(1.58,2.40),(1.59,3.00),(1.61,2.25),(1.62,2.70),(1.64,2.95),(1.66,2.15),(1.67,2.60),(1.69,2.35),(1.70,2.05),(1.71,2.75),
(1.26,1.85),(1.30,2.00),(1.34,1.70),(1.39,1.85),(1.43,1.60),(1.47,1.80),(1.51,1.90),(1.55,1.60),(1.59,1.85),(1.63,1.55),
(1.18,2.15),(1.15,1.90),(1.12,2.50),(1.10,2.20),(1.20,1.65),(1.24,2.85),(1.36,3.10),(1.41,3.35),(1.45,3.20),(1.52,3.30),
(1.58,3.55),(1.62,3.25),(1.67,3.45),(1.72,3.35),(1.76,3.05),(1.81,2.85),(1.79,2.60),(1.75,2.30),(1.68,1.90),(1.57,2.95)]

E_pts = [(2.03,4.54),(2.53,4.55),(2.37,4.48),(3.07,4.41),(1.50,4.20),(1.72,4.25),(2.51,4.17),(2.52,3.91),(1.55,4.02),(1.63,3.95),
(1.73,3.92),(2.82,3.93),(3.32,3.90),(3.40,3.96),(2.81,3.68),(2.88,3.71),(3.18,3.65),(3.74,3.28),(2.55,3.14),(2.52,2.93),
(2.52,2.72),(2.64,2.68),(2.52,2.46),(3.00,1.64),(2.00,3.79),(2.04,3.82),(1.40,3.79),(1.38,3.71),(1.16,3.69),(1.60,3.69),
(1.67,3.64),(1.79,3.68),(1.82,3.57),(1.81,3.53),(2.06,3.54),(2.08,3.47),(2.14,3.56),(2.32,3.52),(0.92,3.55),(0.97,3.46),
(1.10,3.48),(1.11,3.32),(1.04,3.35),(0.92,3.32),(0.67,3.22),(0.71,3.04),(0.72,2.97),(0.68,2.97),(0.51,2.80),(0.53,2.67),
(0.63,2.37),(0.75,2.63),(0.73,2.06),(0.77,1.92),(0.81,1.94),(0.87,1.86),(0.85,2.05),(0.91,2.15),(0.90,2.10),(0.98,2.22),
(0.99,2.17),(0.87,1.74),(0.90,1.67),(0.97,1.64),(1.02,1.92),(0.99,1.81),(1.07,1.81),(1.10,1.92),(1.12,1.82),(1.07,2.04),
(0.90,1.51),(0.99,1.52),(1.08,1.51),(1.10,1.44),(1.13,1.60),(1.13,1.53),(1.04,1.33),(1.10,1.29),(1.22,1.27),(1.25,1.58),
(0.92,1.08),(0.93,0.98),(1.14,1.01),(1.18,1.09),(1.15,0.86),(1.27,1.00),(1.36,1.68),(1.30,1.76),(1.46,1.80),(1.46,1.70),
(1.57,1.71),(1.54,1.39),(1.66,1.39),(1.84,1.27),(1.85,0.82),(2.07,1.09),(1.95,1.59),(1.90,1.96),(1.90,2.02),(1.84,1.98),
(1.78,2.03),(1.74,1.92),(1.67,2.04),(1.69,2.12),(1.58,2.02),(1.49,1.96),(1.44,2.00),(1.38,1.98),(1.34,2.00),(1.26,1.98),
(1.30,1.89),(1.23,1.92),(0.37,0.45),(0.35,1.08),(0.44,1.02),(0.37,1.19),(0.38,1.34),(0.38,1.28),(0.44,1.29),(0.49,1.41),
(0.49,1.58),(0.51,1.49),(0.52,1.74),(0.53,1.65),(0.53,1.34),(0.54,1.28),(0.54,1.18),(0.53,1.07),(0.54,0.98),(0.54,0.90),
(0.57,1.15),(0.58,1.04),(0.59,1.42),(0.59,1.40),(0.59,1.74),(0.61,0.99),(0.61,1.25),(0.64,0.75),(0.69,1.49),(0.69,1.28),
(0.71,1.60),(0.71,1.21),(0.72,1.11),(0.72,1.36),(0.74,1.43),(0.76,1.61),(0.75,1.02),(0.78,1.32),(0.78,1.20),(0.81,1.19),
(0.76,2.53),(0.79,2.57),(0.83,2.49),(0.82,2.45),(0.82,2.71),(0.85,2.80),(0.87,3.03),(0.89,2.83),(0.92,2.79),(0.89,2.37),
(0.91,2.45),(0.94,2.64),(0.98,2.87),(1.00,3.01),(1.01,3.07),(1.04,3.17),(1.05,3.03),(1.06,2.84),(1.05,2.71),(1.08,2.49),
(1.04,2.59),(1.09,2.35),(1.05,2.39),(1.11,3.00),(1.13,3.01),(1.14,3.12),(1.15,2.93),(1.17,2.86),(1.12,2.67),(1.14,2.59),
(1.17,2.51),(1.18,2.45),(1.14,2.37),(1.15,2.31),(1.20,3.05),(1.21,2.99),(1.24,2.96),(1.28,2.88),(1.26,3.25),(1.20,2.75),
(1.22,2.67),(1.23,2.61),(1.26,2.57),(1.21,2.43),(1.20,2.34),(1.24,2.27),(1.27,2.18),(1.30,2.35),(1.32,2.31),(1.31,2.45),
(1.34,2.49),(1.29,2.70),(1.31,2.79),(1.33,2.95),(1.35,2.99),(1.32,3.15),(1.37,3.13),(1.38,3.00),(1.41,3.05),(1.40,2.85),
(1.42,2.91),(1.38,2.67),(1.41,2.61),(1.40,2.51),(1.42,2.43),(1.37,2.33),(1.40,2.27),(1.44,2.18),(1.47,2.14),(1.46,2.33),
(1.49,2.37),(1.44,2.51),(1.47,2.47),(1.46,2.67),(1.49,2.71),(1.47,2.83),(1.51,2.79),(1.47,2.99),(1.51,3.05),(1.52,3.15),
(1.54,3.19),(1.53,3.60),(1.56,3.55),(1.57,3.47),(1.60,3.43),(1.58,3.37),(1.61,3.31),(1.64,3.25),(1.68,3.19),(1.55,3.03),
(1.60,3.05),(1.63,2.95),(1.67,2.91),(1.57,2.83),(1.60,2.75),(1.64,2.71),(1.67,2.67),(1.57,2.59),(1.60,2.55),(1.63,2.47),
(1.67,2.41),(1.69,2.35),(1.72,2.39),(1.60,2.35),(1.57,2.27),(1.54,2.18),(1.58,2.14),(1.63,2.22),(1.67,2.18),(1.72,3.07),
(1.75,3.11),(1.77,3.23),(1.80,3.19),(1.71,2.83),(1.75,2.75),(1.78,2.67),(1.83,2.73),(1.81,2.59),(1.84,2.51),(1.78,2.35),
(1.84,2.35),(1.86,2.31),(1.87,2.20),(1.89,2.57),(1.94,2.57),(1.90,3.15),(1.94,3.09),(1.87,3.27),(1.92,3.29),(1.96,3.37),
(1.96,3.33),(1.87,2.97),(1.92,2.95),(1.95,2.95),(1.98,2.97),(2.01,2.79),(2.04,2.75),(2.00,2.57),(2.03,2.51),(2.07,2.67),
(2.09,2.63),(2.10,2.95),(2.08,3.05),(2.05,3.23),(2.09,3.27),(2.14,3.23),(2.16,3.05),(2.18,3.07),(2.23,2.84),(2.12,2.72),
(2.20,2.47),(2.26,2.61),(2.32,2.71),(2.34,2.63),(2.38,2.53),(2.13,2.39),(2.05,2.15),(2.04,2.29),(2.12,2.02),(2.13,2.00),
(1.99,2.39),(2.26,3.02),(1.42,2.56),(1.36,2.62),(1.45,2.40),(1.52,2.52),(1.39,2.38),(1.33,2.55),(1.50,2.62),(1.43,2.70),
(0.96,3.47),(1.10,3.49),(1.42,3.46),(1.50,3.48),(1.56,3.46),(1.58,3.49),(1.96,3.37),(0.92,3.32),(1.03,3.34),(1.11,3.32),
(1.27,3.26),(1.41,3.36),(1.48,3.37),(1.56,3.37),(1.49,3.29),(1.56,3.29),(1.63,3.26),(1.70,3.39),(1.73,3.27),(1.80,3.29),
(1.86,3.31),(1.90,3.32),(1.96,3.34),(2.06,3.23),(2.10,3.27),(2.16,3.22),(1.06,3.17),(1.15,3.16),(1.28,3.13),(1.35,3.22),
(1.43,3.20),(1.50,3.19),(1.55,3.16),(1.62,3.21),(1.67,3.22),(1.01,3.07),(1.08,3.02),(1.18,3.10),(1.22,3.04),(1.31,3.09),
(1.37,3.05),(1.43,3.09),(1.51,3.09),(1.58,3.05),(1.63,3.09),(1.68,3.05),(1.76,3.10),(1.82,3.12),(1.88,3.14),(1.93,3.09),
(2.01,3.10),(0.72,3.05),(0.87,3.03),(0.96,2.97),(1.06,2.93),(1.13,2.99),(1.20,2.96),(1.28,2.95),(1.35,2.93),(1.41,2.99),
(1.47,2.95),(1.55,2.97),(1.61,2.92),(1.71,2.96),(1.78,2.99),(1.85,2.99),(1.91,2.96),(1.98,2.97),(2.06,2.95),(2.12,2.97),
(2.17,3.05),(0.85,2.83),(0.93,2.85),(1.00,2.87),(1.06,2.82),(1.13,2.88),(1.21,2.83),(1.28,2.85),(1.35,2.80),(1.41,2.85),
(1.47,2.87),(1.55,2.82),(1.63,2.85),(1.70,2.82),(1.76,2.82),(1.92,2.87),(0.82,2.71),(0.90,2.77),(0.93,2.73),(1.01,2.70),
(1.10,2.71),(1.17,2.77),(1.22,2.71),(1.27,2.75),(1.32,2.80),(1.38,2.73),(1.43,2.70),(1.50,2.77),(1.57,2.71),(1.65,2.71),
(1.71,2.70),(1.77,2.66),(1.83,2.68),(1.93,2.71),(1.98,2.73),(2.08,2.71),(2.12,2.72),(0.75,2.63),(0.83,2.61),(0.91,2.60),
(0.98,2.63),(1.06,2.61),(1.12,2.64),(1.18,2.60),(1.25,2.62),(1.31,2.65),(1.37,2.61),(1.43,2.56),(1.50,2.60),(1.56,2.63),
(1.62,2.60),(1.71,2.58),(1.78,2.56),(1.86,2.58),(1.92,2.58),(1.98,2.57),(2.11,2.65),(0.78,2.55),(0.86,2.51),(0.93,2.51),
(1.00,2.55),(1.08,2.53),(1.16,2.51),(1.22,2.50),(1.27,2.53),(1.32,2.48),(1.38,2.51),(1.45,2.46),(1.51,2.51),(1.57,2.51),
(1.63,2.48),(1.70,2.46),(1.76,2.51),(1.83,2.50),(2.01,2.48),(2.08,2.51),(0.82,2.43),(0.88,2.44),(1.01,2.44),(1.08,2.39),
(1.15,2.41),(1.21,2.43),(1.27,2.36),(1.33,2.41),(1.38,2.36),(1.45,2.39),(1.51,2.41),(1.56,2.36),(1.63,2.38),(1.68,2.36),
(1.73,2.41),(1.82,2.38),(1.90,2.43),(1.97,2.39),(2.05,2.41),(2.12,2.39),(0.88,2.35),(1.07,2.33),(1.18,2.33),(1.25,2.31),
(1.31,2.33),(1.36,2.27),(1.41,2.29),(1.47,2.33),(1.55,2.26),(1.61,2.30),(1.67,2.31),(1.76,2.27),(1.83,2.30),(1.90,2.22),
(1.96,2.31),(2.03,2.29),(1.20,2.25),(1.28,2.22),(1.33,2.21),(1.41,2.17),(1.48,2.19),(1.56,2.22),(1.63,2.21),(1.70,2.22),
(0.98,2.22),(0.95,2.19),(0.92,2.14),(0.90,2.10),(1.30,2.16),(1.48,2.14),(1.55,2.12),(1.68,2.12),(1.76,2.22),(1.87,2.12),
(1.96,2.10),(2.05,2.16),(0.73,2.05),(0.85,2.07),(1.07,2.04),(1.16,2.07),(1.28,2.05),(1.35,2.09),(1.40,2.04),(1.43,2.10),
(1.57,2.02),(1.66,2.05),(1.71,2.04),(1.80,2.04),(1.88,2.00),(2.12,2.04),(0.81,1.95),(0.87,1.87),(1.02,1.93),(1.10,1.94),
(1.23,1.94),(1.30,1.94),(1.36,1.97),(1.43,1.99),(1.48,1.96),(1.55,1.95),(1.61,1.94),(1.73,1.92),(1.90,1.95),(0.76,1.91),
(1.02,1.82),(1.12,1.83),(1.21,1.87),(1.31,1.83),(1.37,1.90),(1.45,1.90),(1.51,1.92),(0.87,1.75),(0.98,1.82),(1.07,1.82),
(1.30,1.77),(1.36,1.68),(1.46,1.80),(1.57,1.72),(0.90,1.67),(0.97,1.63),(1.12,1.60),(1.25,1.58),(0.76,1.61),(0.71,1.60),
(1.95,1.60),(1.10,1.53),(0.91,1.51),(0.98,1.53)]

G_pts = [(0.00,2.32),(0.44,1.77),(5.77,7.59),(3.91,7.80),(3.57,7.64),(4.04,7.55),(4.42,7.41),(1.51,7.23),(2.45,7.28),(5.31,7.13),
(4.06,7.13),(2.90,7.11),(4.47,7.08),(5.20,7.05),(3.98,7.05),(0.85,7.13),(2.15,7.09),(3.64,6.99),(3.66,6.93),(3.44,6.90),
(2.38,6.95),(1.03,6.86),(4.05,6.91),(4.89,6.97),(1.92,6.71),(3.11,6.73),(4.68,6.73),(2.65,6.67),(4.09,6.68),(3.27,6.64),
(4.96,6.65),(3.55,6.66),(2.42,6.61),(5.40,6.60),(2.77,6.53),(5.04,6.51),(5.02,6.46),(5.18,6.45),(0.88,6.43),(0.22,6.36),
(0.30,6.40),(1.68,6.40),(2.04,6.41),(2.26,6.51),(2.30,6.51),(2.27,6.36),(2.37,6.36),(3.05,6.53),(4.32,6.51),(4.80,6.49),
(4.44,6.37),(4.46,6.41),(4.53,6.50),(4.71,6.43),(4.92,6.24),(4.83,6.25),(5.18,6.09),(5.20,5.99),(5.47,6.17),(5.58,6.16),
(5.63,6.27),(5.62,5.78),(5.70,5.49),(5.39,5.75),(5.38,5.59),(5.35,5.56),(5.39,5.43),(5.14,5.66),(4.96,5.43),(5.10,5.40),
(5.01,5.20),(5.03,4.75),(5.12,4.60),(4.78,4.97),(4.78,5.36),(4.77,5.56),(4.73,5.91),(4.77,6.05),(4.70,5.79),(4.66,5.65),
(4.61,6.00),(4.56,5.90),(4.52,5.39),(4.59,5.27),(4.47,5.10),(4.44,4.72),(4.33,4.80),(4.22,4.69),(4.16,4.30),(3.94,4.50),
(3.59,4.38),(3.64,4.60),(3.47,4.61),(3.38,4.58),(3.17,4.46),(3.16,4.58),(3.09,4.64),(2.94,4.33),(3.00,4.33),(2.89,4.18),
(2.94,3.49),(2.88,4.34),(2.75,4.56),(2.69,4.62),(2.55,4.29),(2.06,4.46),(2.13,4.64),(1.89,2.40),(1.88,3.79),(1.90,3.80),
(1.69,3.83),(1.55,4.10),(1.45,4.31),(1.56,2.91),(1.46,2.77),(1.63,2.77),(1.25,2.61),(0.88,3.98),(1.05,3.87),(0.92,3.88),
(0.94,3.71),(0.81,3.23),(0.92,3.31),(1.03,3.34),(0.74,2.47),(0.72,2.29),(0.65,2.45),(0.48,2.51),(0.31,2.93),(0.30,2.79),
(0.40,2.71),(0.11,3.11),(0.13,3.35),(0.08,3.54),(0.18,3.45),(0.17,3.64),(0.15,3.75),(0.25,3.58),(0.31,3.66),(0.09,3.88),
(0.22,3.86),(0.27,3.86),(0.28,3.92),(0.32,3.86),(0.40,3.79),(0.25,4.01),(0.28,4.08),(0.22,4.16),(0.23,4.22),(0.17,4.21),
(0.27,4.29),(0.30,4.35),(0.10,4.36),(0.18,4.46),(0.33,4.58),(0.31,4.58),(0.22,4.72),(0.27,4.72),(0.11,4.71),(0.17,4.88),
(0.23,4.88),(0.37,4.50),(0.40,4.21),(0.38,4.72),(0.41,4.72),(0.34,5.02),(0.42,4.88),(0.48,4.50),(0.46,3.87),(0.55,4.12),
(0.53,4.10),(0.61,4.22),(0.64,4.26),(0.69,4.25),(0.62,3.98),(0.70,3.91),(0.60,4.78),(0.59,4.55),(0.84,3.98),(0.82,4.65),
(0.81,4.75),(0.52,5.14),(0.42,5.28),(0.43,5.52),(0.36,5.49),(0.25,5.42),(0.66,5.42),(0.68,5.24),(0.75,5.31),(0.79,5.37),
(0.77,5.56),(0.74,5.71),(0.76,5.66),(0.69,5.94),(0.67,5.85),(0.55,6.01),(0.88,5.14),(0.97,5.31),(1.03,6.01),(1.02,5.52),
(1.08,5.07),(1.15,5.02),(1.18,6.05),(1.22,5.98),(1.26,5.85),(1.23,5.47),(1.25,5.37),(1.13,5.43),(1.15,5.36),(1.08,5.21),
(1.01,4.81),(1.13,4.75),(1.16,4.72),(1.24,5.18),(1.32,4.87),(1.38,5.97),(1.39,6.01),(1.37,5.59),(1.40,5.56),(1.41,5.36),
(1.40,5.00),(1.47,4.77),(1.48,5.50),(1.54,5.50),(1.53,5.37),(1.56,5.35),(1.58,5.97),(1.59,5.17),(1.60,5.21),(1.52,4.85),
(1.56,4.72),(1.64,5.47),(1.68,5.50),(1.68,5.89),(1.72,6.34),(1.75,6.40),(1.75,6.17),(1.69,5.35),(1.64,4.98),(1.68,4.94),
(1.71,5.18),(1.72,4.75),(1.75,4.75),(1.75,4.55),(1.78,5.02),(1.82,4.95),(1.80,5.16),(1.84,5.11),(1.82,5.73),(1.82,4.72),
(1.85,5.25),(1.89,5.30),(1.90,5.89),(1.91,5.17),(1.90,5.04),(1.96,5.34),(1.96,4.90),(2.01,6.08),(2.06,5.56),(2.10,5.53),
(2.13,5.49),(2.10,5.25),(2.12,5.91),(2.19,5.39),(2.22,5.36),(2.23,5.69),(2.26,5.73),(2.29,5.88),(2.31,5.85),(2.29,5.63),
(2.32,5.57),(2.27,5.49),(2.31,5.33),(2.26,5.14),(2.31,5.18),(2.37,5.47),(2.39,5.40),(2.18,5.01),(2.22,5.00),(2.26,4.90),
(2.31,4.94),(2.37,5.30),(2.38,5.21),(2.43,5.82),(2.46,5.88),(2.39,6.20),(2.45,6.23),(2.39,5.67),(2.45,5.76),(2.46,5.36),
(2.49,5.40),(2.46,4.92),(2.49,4.95),(2.53,5.04),(2.57,5.07),(2.52,5.16),(2.55,5.24),(2.60,5.76),(2.62,5.78),(2.61,6.27),
(2.65,6.23),(2.67,6.35),(2.69,5.99),(2.72,6.02),(2.59,5.56),(2.61,5.59),(2.65,5.47),(2.67,5.53),(2.66,5.36),(2.70,5.33),
(2.69,5.18),(2.73,5.13),(2.75,5.56),(2.77,5.59),(2.76,5.36),(2.80,5.33),(2.77,5.07),(2.80,5.04),(2.83,5.63),(2.88,5.69),
(2.82,5.88),(2.85,5.83),(2.81,6.05),(2.85,5.99),(2.90,6.20),(2.95,6.25),(2.87,5.53),(2.90,5.50),(2.86,5.30),(2.90,5.21),
(2.85,5.04),(2.88,5.07),(2.96,5.59),(3.00,5.62),(2.97,5.89),(3.01,5.95),(2.93,5.42),(2.98,5.36),(3.00,6.01),(3.04,5.99),
(3.04,6.41),(3.06,6.29),(3.10,6.31),(3.12,6.25),(3.15,6.20),(3.04,5.73),(3.06,5.71),(3.06,5.18),(3.11,5.10),(3.11,4.95),
(3.15,4.97),(3.12,5.30),(3.17,5.36),(3.18,5.68),(3.16,5.65),(3.19,5.88),(3.22,5.94),(3.21,6.25),(3.17,6.34),(3.24,5.50),
(3.28,5.53),(3.24,5.24),(3.28,5.23),(3.29,5.10),(3.32,5.01),(3.28,4.97),(3.31,4.92),(3.33,5.30),(3.36,5.33),(3.33,5.85),
(3.38,5.82),(3.39,5.59),(3.41,5.65),(3.37,6.18),(3.39,6.20),(3.33,6.47),(3.36,6.46),(3.41,5.99),(3.44,6.02),(3.44,5.88),
(3.47,5.89),(3.43,5.73),(3.47,5.71),(3.44,5.42),(3.48,5.37),(3.41,5.25),(3.46,5.21),(3.40,5.07),(3.43,5.04),(3.47,4.92),
(3.49,4.95),(3.49,5.53),(3.54,5.59),(3.52,5.30),(3.55,5.33),(3.55,5.09),(3.58,5.13),(3.58,5.99),(3.62,6.02),(3.61,5.82),
(3.63,5.85),(3.61,5.65),(3.63,5.60),(3.63,5.42),(3.66,5.36),(3.65,6.28),(3.69,6.20),(3.67,6.14),(3.71,6.11),(3.66,5.24),
(3.69,5.18),(3.69,5.07),(3.71,5.04),(3.70,4.87),(3.74,5.99),(3.76,5.96),(3.74,5.76),(3.76,5.79),(3.72,5.59),(3.76,5.53),
(3.76,6.51),(3.79,6.49),(3.79,6.10),(3.82,6.11),(3.82,5.65),(3.84,5.62),(3.83,5.36),(3.86,5.33),(3.84,5.10),(3.87,5.07),
(3.87,6.18),(3.90,6.17),(3.90,5.89),(3.92,5.82),(3.89,5.50),(3.92,5.49),(3.96,5.36),(3.98,5.33),(3.98,5.68),(4.01,5.65),
(4.01,5.99),(4.03,5.96),(4.03,6.14),(4.04,6.17),(4.01,6.34),(4.03,6.35),(4.03,5.24),(4.06,5.27),(4.09,5.88),(4.11,5.85),
(4.09,5.53),(4.11,5.50),(4.09,5.36),(4.13,5.33),(4.11,6.50),(4.14,6.49),(4.14,6.02),(4.17,5.99),(4.14,5.76),(4.17,5.82),
(4.14,5.65),(4.17,5.62),(4.17,5.16),(4.19,5.10),(4.19,6.34),(4.22,6.28),(4.21,6.11),(4.22,6.08),(4.22,5.76),(4.24,5.82),
(4.19,5.53),(4.23,5.50),(4.23,5.36),(4.27,5.30),(4.25,5.01),(4.23,5.04),(4.27,5.13),(4.27,5.65),(4.30,5.59),(4.33,6.28),
(4.37,6.11),(4.38,5.82),(4.41,5.71),(4.38,5.53),(4.42,6.37),(4.45,6.40),(4.46,5.76),(4.49,5.99),(4.52,5.96),(4.54,6.22),
(4.57,6.05),(4.59,6.02),(4.62,5.65),(4.65,5.83),(4.52,5.27),(4.53,5.36)]

H_pts = [(0.85,6.80),(0.08,0.83),(0.00,1.43),(0.48,1.15),(1.47,1.10),(1.56,1.39),(1.24,1.59),(0.74,1.52),(0.10,1.61),(0.18,1.67),
(0.08,1.98),(0.13,1.85),(0.17,1.85),(0.25,1.42),(0.30,1.37),(0.31,1.45),(0.31,1.77),(0.37,1.76),(0.43,1.86),(0.26,1.95),
(0.27,1.89),(0.17,2.14),(0.22,2.14),(0.25,2.14),(0.33,2.11),(0.25,2.22),(0.28,2.25),(0.27,2.28),(0.18,2.37),(0.31,2.37),
(0.34,2.41),(0.38,2.42),(0.41,2.41),(0.09,2.51),(0.13,2.47),(0.22,2.48),(0.25,2.50),(0.30,2.53),(0.32,2.47),(0.22,2.59),
(0.30,2.65),(0.48,2.42),(0.52,2.49),(0.52,2.31),(0.55,2.28),(0.43,2.35),(0.20,2.98),(0.23,3.01),(0.25,3.08),(0.17,3.11),
(0.28,3.14),(0.07,2.83),(0.22,3.37),(0.38,2.83),(0.40,2.84),(0.40,2.88),(0.43,2.85),(0.41,3.33),(0.30,4.22),(0.35,4.47),
(0.41,4.61),(0.43,3.87),(0.55,5.01),(0.59,3.78),(0.65,4.36),(0.75,4.09),(0.77,4.27),(0.78,4.12),(0.70,3.44),(0.66,3.00),
(0.68,3.07),(0.67,2.83),(0.65,2.53),(0.63,2.14),(0.60,2.08),(0.62,2.02),(0.64,1.81),(0.71,2.14),(0.74,3.20),(0.82,3.40),
(0.79,3.53),(0.81,2.87),(0.82,2.35),(0.84,2.31),(0.83,1.96),(0.87,3.42),(0.88,4.39),(0.86,3.89),(0.91,4.92),(0.91,4.73),
(0.93,3.20),(0.96,2.99),(1.01,3.45),(1.02,3.87),(1.03,4.89),(1.03,4.63),(1.03,1.87),(1.05,2.19),(1.07,2.39),(1.08,3.12),
(1.12,3.16),(1.12,3.89),(1.13,4.29),(1.15,4.38),(1.16,4.03),(1.16,3.56),(1.18,4.53),(1.23,4.49),(1.20,2.89),(1.22,3.74),
(1.24,4.36),(1.26,4.20),(1.26,3.46),(1.31,2.53),(1.37,3.70),(1.39,3.74),(1.38,4.33),(1.39,3.37),(1.37,3.10),(1.38,3.14),
(1.40,3.63),(1.42,3.57),(1.45,3.57),(1.47,3.17),(1.49,3.28),(1.51,4.71),(1.52,3.86),(1.53,3.56),(1.56,3.57),(1.56,2.84),
(1.57,2.73),(1.59,4.40),(1.60,3.63),(1.60,3.54),(1.62,2.44),(1.60,2.95),(1.64,3.97),(1.67,3.99),(1.68,3.51),(1.67,2.85),
(1.69,2.84),(1.67,4.90),(1.73,4.24),(1.72,3.10),(1.73,3.86),(1.75,3.74),(1.74,2.85),(1.72,2.83),(1.74,2.19),(1.76,4.79),
(1.75,4.67),(1.78,3.70),(1.77,3.63),(1.81,2.48),(1.80,3.21),(1.82,3.24),(1.84,5.23),(1.85,3.93),(1.86,4.38),(1.87,4.47),
(1.89,3.30),(1.89,3.74),(1.90,2.56),(1.90,1.80),(1.92,3.93),(1.94,3.00),(1.97,3.01),(1.96,2.35),(1.98,3.69),(2.00,4.05),
(2.03,4.19),(2.03,3.26),(2.04,3.69),(2.07,3.74),(2.05,4.61),(2.06,4.34),(2.07,2.90),(2.08,3.57),(2.11,3.53),(2.10,4.20),
(2.12,3.43),(2.15,3.45),(2.18,3.44),(2.13,3.77),(2.23,3.24),(2.25,4.17),(2.28,4.16),(2.27,2.77),(2.26,3.04),(2.28,4.68),
(2.29,4.43),(2.29,4.38),(2.28,3.61),(2.30,3.57),(2.30,3.40),(2.33,3.37),(2.31,3.92),(2.32,2.91),(2.35,3.46),(2.38,3.43),
(2.37,4.63),(2.38,4.78),(2.41,4.79),(2.41,4.94),(2.39,3.92),(2.40,2.78),(2.41,3.74),(2.45,3.78),(2.42,3.20),(2.45,4.78),
(2.46,4.58),(2.47,4.19),(2.49,4.08),(2.49,3.83),(2.51,3.66),(2.52,3.34),(2.53,2.96),(2.54,2.68),(2.58,4.36),(2.60,4.20),
(2.59,4.72),(2.62,4.34),(2.63,3.99),(2.64,3.69),(2.67,3.66),(2.67,3.86),(2.70,3.92),(2.70,3.40),(2.71,3.26),(2.74,2.91),
(2.74,4.15),(2.77,4.09),(2.76,4.72),(2.79,4.54),(2.80,4.23),(2.83,4.25),(2.81,3.80),(2.84,3.83),(2.83,3.57),(2.85,3.58),
(2.84,3.30),(2.85,3.00),(2.88,2.93),(2.86,2.68),(2.88,4.09),(2.90,4.10),(2.89,4.47),(2.91,4.44),(2.91,4.91),(2.93,3.73),
(2.96,3.74),(2.94,2.18),(2.96,4.55),(2.97,4.21),(2.98,3.58),(2.99,3.15),(3.00,5.10),(3.02,2.38),(3.03,3.80),(3.05,3.85),
(3.05,3.14),(3.06,3.11),(3.06,2.73),(3.08,4.10),(3.10,4.20),(3.07,2.64),(3.09,4.73),(3.11,4.78),(3.09,5.01),(3.10,4.32),
(3.12,4.35),(3.11,2.85),(3.12,3.92),(3.15,3.89),(3.14,3.54),(3.16,3.51),(3.14,3.11),(3.18,3.08),(3.16,4.85),(3.16,2.13),
(3.18,4.55),(3.21,4.50),(3.19,4.20),(3.22,4.23),(3.22,4.00),(3.24,4.03),(3.24,3.69),(3.26,3.62),(3.27,3.49),(3.28,3.43),
(3.28,3.14),(3.31,4.32),(3.33,4.38),(3.32,3.83),(3.35,3.80),(3.33,2.33),(3.35,5.57),(3.35,4.09),(3.36,4.05),(3.36,3.39),
(3.38,3.34),(3.38,4.66),(3.41,4.63),(3.40,3.67),(3.41,3.60),(3.41,2.91),(3.43,2.85),(3.43,3.11),(3.44,4.90),(3.45,4.83),
(3.45,4.38),(3.47,4.32),(3.47,3.97),(3.48,3.92),(3.48,3.51),(3.50,3.54),(3.50,4.17),(3.53,4.20),(3.54,3.72),(3.56,3.66),
(3.56,5.45),(3.56,2.83),(3.57,4.90),(3.58,4.92),(3.57,4.52),(3.59,4.55),(3.58,3.28),(3.61,3.26),(3.59,3.08),(3.61,4.12),
(3.62,4.06),(3.62,3.86),(3.64,3.92),(3.63,3.54),(3.66,3.49),(3.64,5.84),(3.65,5.09),(3.66,4.61),(3.68,4.58),(3.68,4.32),
(3.70,4.27),(3.69,3.20),(3.71,3.97),(3.74,3.92),(3.73,3.74),(3.75,3.66),(3.76,4.38),(3.78,4.40),(3.79,4.09),(3.82,4.06),
(3.80,3.51),(3.83,3.53),(3.83,4.61),(3.84,4.32),(3.85,4.43),(3.85,3.43),(3.87,3.80),(3.89,3.80),(3.89,4.81),(3.92,3.51),
(3.95,3.54),(3.95,4.64),(3.97,4.67),(3.95,3.86),(3.97,3.89),(3.97,4.29),(4.00,4.26),(3.98,4.00),(4.01,4.03),(3.99,3.14),
(4.00,2.97),(4.00,4.79),(4.01,3.56),(4.03,3.43),(4.03,5.74),(4.03,3.28),(4.04,3.03),(4.06,2.99),(4.05,4.38),(4.08,4.38),
(4.06,4.20),(4.08,4.17),(4.07,3.72),(4.09,3.69),(4.08,5.01),(4.09,3.97),(4.11,4.00),(4.10,4.86),(4.14,4.86),(4.11,3.57),
(4.14,3.60),(4.13,4.41),(4.16,4.32),(4.16,4.09),(4.18,4.04),(4.17,3.74),(4.18,3.66),(4.20,4.86),(4.20,3.47),(4.21,3.46),
(4.21,3.23),(4.22,5.04),(4.23,3.92),(4.26,3.95),(4.26,4.15),(4.27,3.47),(4.29,3.07),(4.31,3.92),(4.34,4.15),(4.34,3.74),
(4.36,4.55),(4.37,5.45),(4.39,3.37),(4.42,5.51),(4.41,4.86),(4.42,4.46),(4.43,3.26),(4.44,3.76),(4.46,4.92),(4.47,4.89),
(4.47,3.57),(4.49,4.12),(4.51,4.06),(4.52,4.89),(4.53,3.95),(4.55,4.26),(4.56,3.60),(4.58,4.38),(4.60,4.15),(4.61,3.63),
(4.65,3.72),(4.67,4.12),(4.69,5.60),(4.70,3.37),(4.72,4.63),(4.74,4.58),(4.75,4.09),(4.75,3.83),(4.78,3.47),(4.79,4.03),
(4.81,5.16),(4.83,3.68),(4.90,4.79),(4.93,5.02),(4.95,5.39),(4.95,3.77),(5.00,3.76),(5.02,4.39),(5.01,3.63),(5.02,3.51),
(5.03,4.78),(5.09,3.74),(5.11,3.40),(5.16,4.20),(5.17,4.26),(5.17,4.50),(5.19,5.55),(5.21,4.29),(5.25,4.32),(5.28,4.29),
(5.30,4.61),(5.33,4.63),(5.33,3.62),(5.35,5.63),(5.46,5.00),(5.49,4.06),(5.49,4.72),(5.59,4.70),(5.62,4.29),(5.63,4.82),
(5.71,3.53),(5.76,4.69)]

titles = ["Pearson's correlation= 0.5792", "Pearson's correlation= 0.563", "Pearson's correlation= 0.5323",
          "Pearson's correlation= 0.5196", "Pearson's correlation= 0.5138",
          "Pearson's correlation= 0.5329", "Pearson's correlation= 0.5281"]
ylabels = ["PLAU expression", "LOX expression", "COL5A2 expression", "VCAN expression",
           "OSBPL3 expression", "SRM expression", "E2F1 expression"]
xlabels = ["MIR4435\u22122HG expression"] * 5 + ["ELFN1\u2212AS1 expression"] * 2
yticks = [[2, 4, 6, 8], [0, 1, 2, 3, 4, 5, 6], [2, 4, 6, 8], [0, 1, 2, 3, 4, 5, 6, 7],
          [1, 2, 3, 4], [2, 3, 4, 5, 6, 7, 8], [1, 2, 3, 4, 5, 6, 7]]
xticks_mir = [0.5, 1.0, 1.5, 2.0, 2.5, 3.0, 3.5]
xticks_elfn = [0, 1, 2, 3, 4, 5]
panel_letters = ["A", "B", "C", "D", "E", "F", "G", "H", "I"]

# network F
F_nodes = ["MIR4435-2HG", "hsa-miR-193a", "hsa-miR-193b", "hsa-miR-424", "hsa-miR-335", "hsa-miR-29a",
           "PLAU", "OSBPL3", "COL5A2", "LOX", "VCAN"]
F_types = ["lnc", "mir", "mir", "mir", "mir", "mir", "gene", "gene", "gene", "gene", "gene"]
F_edges = [("PLAU", "hsa-miR-193a"), ("PLAU", "hsa-miR-193b"), ("hsa-miR-193a", "MIR4435-2HG"),
           ("hsa-miR-193b", "MIR4435-2HG"), ("hsa-miR-424", "MIR4435-2HG"), ("hsa-miR-424", "OSBPL3"),
           ("hsa-miR-335", "MIR4435-2HG"), ("hsa-miR-335", "VCAN"), ("hsa-miR-29a", "MIR4435-2HG"),
           ("hsa-miR-29a", "COL5A2"), ("hsa-miR-29a", "LOX")]
# network I
I_nodes = ["ELFN1-AS1", "hsa-miR-423", "hsa-miR-93", "SRM", "E2F1"]
I_types = ["lnc", "mir", "mir", "gene", "gene"]
I_edges = [("SRM", "hsa-miR-423"), ("hsa-miR-423", "ELFN1-AS1"), ("ELFN1-AS1", "hsa-miR-93"), ("hsa-miR-93", "E2F1")]

# ---------------- layout (pixels) ----------------
W, H = 1946, 1929
F_layout = {"MIR4435-2HG": (1630, 947), "hsa-miR-193a": (1546, 837), "hsa-miR-193b": (1447, 931),
            "hsa-miR-424": (1746, 865), "hsa-miR-335": (1537, 1050), "hsa-miR-29a": (1769, 1026),
            "PLAU": (1403, 812), "OSBPL3": (1837, 793), "COL5A2": (1911, 1059), "LOX": (1822, 1154),
            "VCAN": (1452, 1133)}
I_layout = {"SRM": (1686, 1448), "hsa-miR-423": (1664, 1529), "ELFN1-AS1": (1640, 1628),
            "hsa-miR-93": (1629, 1728), "E2F1": (1598, 1817)}

sns.set_style("ticks")
plt.rcParams["font.family"] = ["Liberation Sans", "DejaVu Sans"]

fig = plt.figure(figsize=(W / 100, H / 100), dpi=100)

col_left = [91.5, 757, 1423]
row_top = [77, 742, 1408]
AW, AH = 488, 436

def add_ax(left, top, w=AW, h=AH):
    return fig.add_axes([left / W, 1 - (top + h) / H, w / W, h / H])

scatter_specs = [
    (A_pts, 0, 0, (0.212, 3.871), (0.57, 8.99), xticks_mir),
    (B_pts, 0, 1, (0.212, 3.871), (-0.03, 6.08), xticks_mir),
    (C_pts, 0, 2, (0.212, 3.871), (0.73, 8.54), xticks_mir),
    (D_pts, 1, 0, (0.212, 3.871), (-0.04, 7.43), xticks_mir),
    (E_pts, 1, 1, (0.212, 3.871), (0.29, 4.72), xticks_mir),
    (G_pts, 2, 0, (-0.231, 6.0), (1.58, 8.05), xticks_elfn),
    (H_pts, 2, 1, (-0.236, 6.0), (0.61, 7.05), xticks_elfn),
]

for i, (pts, r, c, xl, yl, xt) in enumerate(scatter_specs):
    ax = add_ax(col_left[c], row_top[r])
    xs = [p[0] for p in pts]
    ys = [p[1] for p in pts]
    sns.scatterplot(x=xs, y=ys, ax=ax, marker="s", s=13, color="#FF0000", linewidth=0, edgecolor="none")
    ax.set_xlim(*xl)
    ax.set_ylim(*yl)
    ax.set_xticks(xt)
    if xt == xticks_mir:
        ax.set_xticklabels([f"{v:.1f}" for v in xt])
    ax.set_yticks(yticks[i])
    ax.set_yticklabels([str(v) for v in yticks[i]])
    ax.tick_params(axis="both", direction="out", length=7, width=0.9, colors="#333333",
                   labelsize=10, labelcolor="#222222", pad=9)
    for t in ax.get_yticklabels():
        t.set_rotation(90)
        t.set_verticalalignment("center")
    for s in ax.spines.values():
        s.set_visible(True)
        s.set_color("#444444")
        s.set_linewidth(1.0)
    ax.set_xlabel("")
    ax.set_ylabel("")
    ax.text(0.5, -76 / AH, xlabels[i], transform=ax.transAxes, ha="center", va="baseline",
            fontsize=20, color="#111111")
    ax.text(-44 / AW, 0.5, ylabels[i], transform=ax.transAxes, ha="center", va="baseline",
            rotation=90, rotation_mode="anchor", fontsize=20, color="#111111")
    ax.text(0.5 + 8 / AW, 1 + 29 / AH, titles[i], transform=ax.transAxes, ha="center", va="baseline",
            fontsize=21, color="#111111")

# ---------------- networks ----------------
node_colors = {"F": {"lnc": "#FF7C80", "mir": "#FFD06A", "gene": "#6AC4C0"},
               "I": {"lnc": "#FF7B82", "mir": "#F8DB84", "gene": "#86BFBF"}}
node_sizes = {"F": {"lnc": (106, 41), "mir": (74, 41), "gene": (65, 35)},
              "I": {"lnc": (69, 32), "mir": (67, 32), "gene": (41.5, 32)}}

def draw_network(region, key, nodes, types, edges, layout, fsize, elw):
    x0, y0, x1, y1 = region
    ax = fig.add_axes([x0 / W, 1 - y1 / H, (x1 - x0) / W, (y1 - y0) / H])
    ax.set_xlim(x0, x1)
    ax.set_ylim(y1, y0)
    ax.axis("off")
    for a, b in edges:
        (xa, ya), (xb, yb) = layout[a], layout[b]
        ax.plot([xa, xb], [ya, yb], color="#808080", lw=elw, zorder=1, solid_capstyle="butt")
    for name, t in zip(nodes, types):
        cx, cy = layout[name]
        w, h = node_sizes[key][t]
        col = node_colors[key][t]
        if t == "gene":
            patch = Ellipse((cx, cy), w, h, facecolor=col, edgecolor="none", zorder=2)
        elif t == "mir":
            patch = Polygon([(cx - w / 2, cy), (cx, cy - h / 2), (cx + w / 2, cy), (cx, cy + h / 2)],
                            closed=True, facecolor=col, edgecolor="none", zorder=2)
        else:
            patch = FancyBboxPatch((cx - w / 2, cy - h / 2), w, h, boxstyle="round,pad=0,rounding_size=4",
                                   facecolor=col, edgecolor="none", zorder=2)
        ax.add_patch(patch)
        ax.text(cx, cy, name, ha="center", va="center", fontsize=fsize, color="#1A1A1A", zorder=3)
    return ax

draw_network((1320, 660, 1946, 1320), "F", F_nodes, F_types, F_edges, F_layout, 10.2, 1.6)
draw_network((1320, 1320, 1946, 1929), "I", I_nodes, I_types, I_edges, I_layout, 8.0, 1.1)

# ---------------- panel letters ----------------
letter_pos = {"A": (3, 50), "B": (666, 49), "C": (1330, 49), "D": (1, 719), "E": (666, 719),
              "F": (1340, 719), "G": (0, 1377), "H": (666, 1377), "I": (1368, 1379)}
for L in panel_letters:
    x, y = letter_pos[L]
    fig.text(x / W, 1 - y / H, L, fontsize=42, ha="left", va="baseline", color="#231815",
             family=["Noto Sans CJK SC", "DejaVu Sans"])

fig.savefig("out.png", dpi=100, facecolor="white")
